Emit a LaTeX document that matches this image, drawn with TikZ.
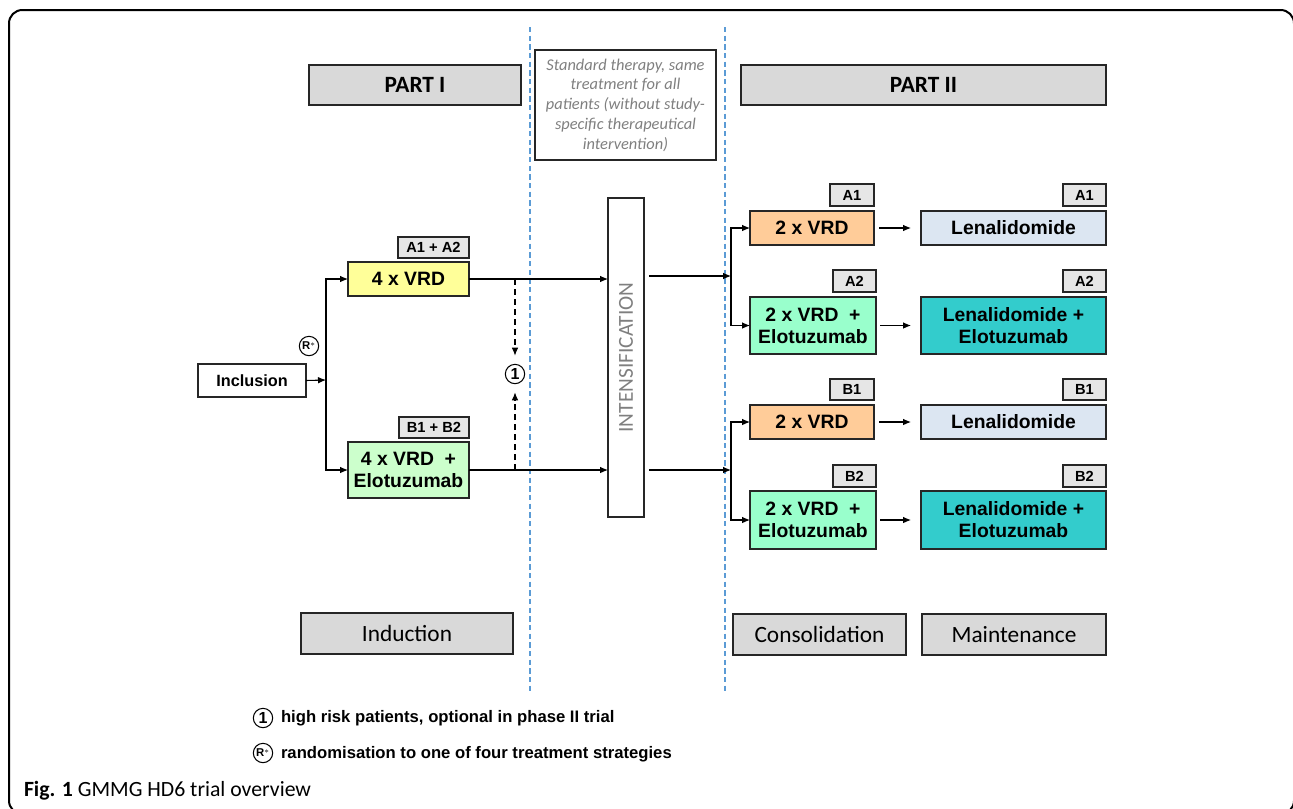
\documentclass[tikz,border=0pt]{standalone}
\usepackage{fontspec}
\setmainfont{Liberation Sans}
\newfontfamily\calf{Carlito}
\usetikzlibrary{arrows.meta}
\definecolor{taggray}{HTML}{E6E6E6}
\definecolor{hdrgray}{HTML}{D9D9D9}
\definecolor{cyellow}{HTML}{FFFF99}
\definecolor{cgreen}{HTML}{CCFFCC}
\definecolor{corange}{HTML}{FFCC99}
\definecolor{cblue}{HTML}{DCE6F2}
\definecolor{cmint}{HTML}{99FFCC}
\definecolor{cteal}{HTML}{33CCCC}
\definecolor{sepblue}{HTML}{5B9BD5}
\definecolor{txtgray}{HTML}{7F7F7F}
\newcommand\mybox[7]{\node[#6, minimum width={(#4-#2)*0.75pt}, minimum height={(#5-#3)*0.75pt}] (#1) at ({(#2+#4)/2},{(#3+#5)/2}) {#7};}
\begin{document}
\begin{tikzpicture}[x=0.75pt,y=-0.75pt,
 every node/.style={inner sep=0pt, outer sep=0pt},
 box/.style={draw=black!85, line width=0.9pt, align=center, font=\bfseries\fontsize{14.5}{16.5}\selectfont},
 tagbox/.style={draw=black!85, line width=0.9pt, fill=taggray, font=\bfseries\fontsize{11}{13}\selectfont},
 hdr/.style={draw=black!85, line width=0.9pt, fill=hdrgray, font=\calf\fontsize{17.5}{20}\selectfont},
 arr/.style={-{Latex[length=6pt,width=5pt]}, line width=0.8pt},
 circ/.style={draw, circle, line width=0.8pt, minimum size=14.5pt, font=\bfseries\fontsize{12}{12}\selectfont},
 rcirc/.style={circ, font=\bfseries\fontsize{8.5}{8.5}\selectfont},
 sep/.style={draw=sepblue, line width=0.8pt, dash pattern=on 4pt off 2.5pt}]
\useasboundingbox (0,0) rectangle (1293,808);
% frame
\draw[line width=1.5pt, rounded corners=10pt] (9,10) rectangle (1294,814);
% separators
\draw[sep] (530,27) -- (530,692);
\draw[sep] (725,27) -- (725,692);
% headers
\mybox{p1}{309}{65}{521}{105}{hdr}{\bfseries PART I}
\mybox{p2}{741}{65}{1106}{105}{hdr}{\bfseries PART II}
\mybox{std}{535}{50}{716}{160}{draw=black!85, line width=0.9pt, align=center, text=txtgray, font=\calf\itshape\fontsize{12.3}{14.8}\selectfont}{Standard therapy, same\\treatment for all\\patients (without study-\\specific therapeutical\\intervention)}
% part I
\mybox{incl}{198}{364}{306}{397}{box, font=\bfseries\fontsize{12.2}{14}\selectfont}{Inclusion}
\node[rcirc] (rs) at (309,346) {R$^{*}$};
\mybox{vrd4}{348}{262}{469}{296}{box, fill=cyellow}{4 x VRD}
\mybox{tA}{398}{237}{469}{258}{tagbox}{A1 + A2}
\mybox{vrde4}{348}{442}{469}{498}{box, fill=cgreen}{4 x VRD\ \ +\\Elotuzumab}
\mybox{tB}{399}{417}{469}{438}{tagbox}{B1 + B2}
\coordinate (br1) at (326,380);
\draw[arr] (incl.east) -- (br1);
\draw[arr] (br1) |- (vrd4.west);
\draw[arr] (br1) |- (vrde4.west);
% intensification
\mybox{intens}{608}{198}{644}{517}{draw=black!85, line width=0.9pt}{}
\node[rotate=90, text=txtgray, font=\calf\fontsize{16}{18}\selectfont] at (intens.center) {INTENSIFICATION};
\draw[arr] (vrd4.east) -- (vrd4.east -| intens.west);
\draw[arr] (vrde4.east) -- (vrde4.east -| intens.west);
% optional dashed
\node[circ] (one) at (515,374) {1};
\coordinate (d1) at (515,279);
\coordinate (d2) at (515,470);
\draw[arr, dash pattern=on 4.5pt off 3pt, shorten >=6.5pt] (d1) -- (one);
\draw[arr, dash pattern=on 4.5pt off 3pt, shorten >=6.5pt] (d2) -- (one);
% part II
\mybox{cA1}{750}{211}{874}{245}{box, fill=corange}{2 x VRD}
\mybox{mA1}{921}{211}{1106}{245}{box, fill=cblue}{Lenalidomide}
\mybox{tcA1}{830}{184}{874}{206}{tagbox}{A1}
\mybox{tmA1}{1063}{184}{1106}{206}{tagbox}{A1}
\mybox{cA2}{750}{297}{876}{354}{box, fill=cmint}{2 x VRD\ \ +\\Elotuzumab}
\mybox{mA2}{921}{297}{1106}{354}{box, fill=cteal}{Lenalidomide +\\Elotuzumab}
\mybox{tcA2}{833}{270}{876}{292}{tagbox}{A2}
\mybox{tmA2}{1063}{270}{1106}{292}{tagbox}{A2}
\mybox{cB1}{750}{405}{874}{439}{box, fill=corange}{2 x VRD}
\mybox{mB1}{921}{405}{1106}{439}{box, fill=cblue}{Lenalidomide}
\mybox{tcB1}{830}{379}{874}{400}{tagbox}{B1}
\mybox{tmB1}{1063}{379}{1106}{400}{tagbox}{B1}
\mybox{cB2}{750}{491}{876}{549}{box, fill=cmint}{2 x VRD\ \ +\\Elotuzumab}
\mybox{mB2}{921}{491}{1106}{549}{box, fill=cteal}{Lenalidomide +\\Elotuzumab}
\mybox{tcB2}{833}{465}{876}{487}{tagbox}{B2}
\mybox{tmB2}{1063}{465}{1106}{487}{tagbox}{B2}
\coordinate (bA) at (731,276);
\coordinate (bB) at (731,470);
\draw[arr, shorten <=3.75pt] (intens.east |- bA) -- (bA);
\draw[arr, shorten <=3.75pt] (intens.east |- bB) -- (bB);
\draw[arr] (bA) |- (cA1.west);
\draw[arr] (bA) |- (cA2.west);
\draw[arr] (bB) |- (cB1.west);
\draw[arr] (bB) |- (cB2.west);
\draw[arr, shorten <=4pt, shorten >=7.5pt] (cA1.east) -- (mA1.west);
\draw[arr, shorten <=3pt, shorten >=7.5pt] (cA2.east) -- (mA2.west);
\draw[arr, shorten <=4pt, shorten >=7.5pt] (cB1.east) -- (mB1.west);
\draw[arr, shorten <=3pt, shorten >=7.5pt] (cB2.east) -- (mB2.west);
% phase labels
\mybox{ind}{301}{613}{513}{654}{hdr}{Induction}
\mybox{cons}{733}{614}{906}{655}{hdr}{Consolidation}
\mybox{mnt}{922}{614}{1106}{655}{hdr}{Maintenance}
% legend
\node[circ] (l1) at (263,718) {1};
\node[anchor=west, font=\bfseries\fontsize{12.5}{14}\selectfont] (l1t) at (281,718) {high risk patients, optional in phase II trial};
\node[rcirc] (l2) at (263,753) {R$^{*}$};
\node[anchor=west, font=\bfseries\fontsize{12.5}{14}\selectfont] (l2t) at (281,754) {randomisation to one of four treatment strategies};
% caption
\node[anchor=base west, font=\calf\fontsize{16.3}{18}\selectfont] (cap) at (24,796) {\textbf{Fig. 1} GMMG HD6 trial overview};
\end{tikzpicture}
\end{document}
